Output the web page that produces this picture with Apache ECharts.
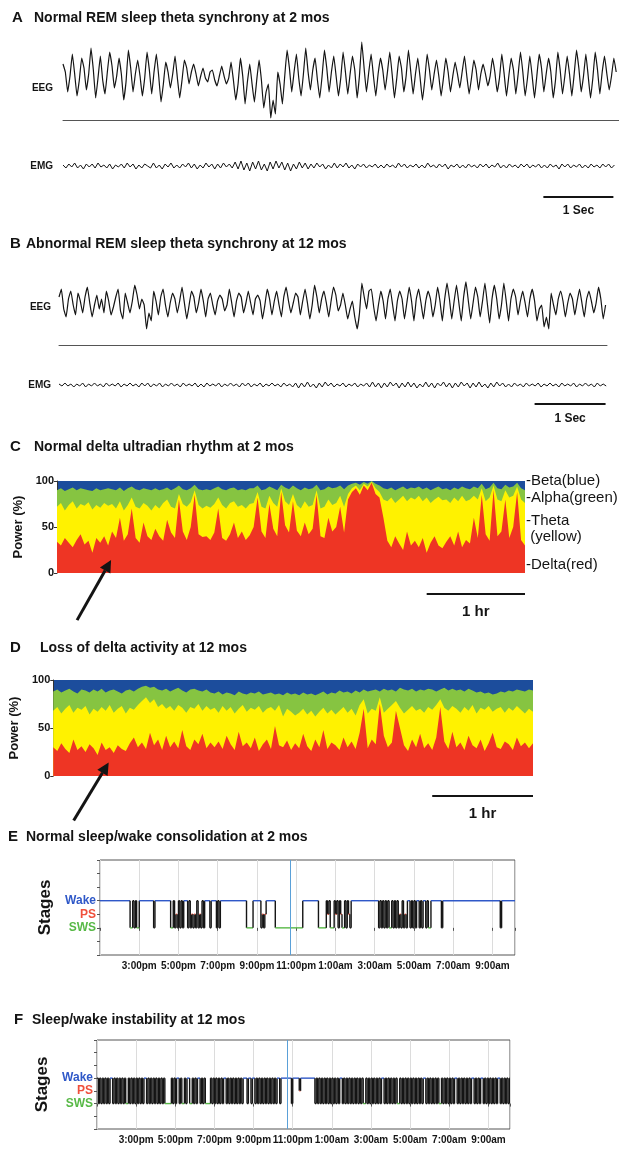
<!DOCTYPE html>
<html>
<head>
<meta charset="utf-8">
<script src="https://cdn.jsdelivr.net/npm/echarts@6/dist/echarts.min.js"></script>
<style>
  html, body { margin: 0; background: #fff; }
  #chart { width: 619px; height: 1152px; }
</style>
</head>
<body>
<div id="chart"></div>
<script>
// ---- traces (A, B): EEG sampled at 30/s, EMG at 24/s, arbitrary units ----
const eegRate = 30
const emgRate = 24

const eegA = [
  30,10,-40,0, 55,5,-50,-10, 45,20,-35,5, 70,15,-55,-5, 50,-10,-45,10,
  60,25,-30,0, 45,5,-60,-15, 65,20,-40,5, 40,0,-50,-5, 60,15,-45,10,
  55,0,-65,-20, 35,10,-30,5, 50,-5,-55,-10, 40,20,-20,10, 30,5,-25,0,
  20,-5,-15,10, 15,-10,-25,0, 25,0,-20,-5, 35,-10,-60,-20, 45,0,-70,-15,
  30,-20,-65,-10, 40,-10,-80,-40, -20,-105,-60,-95, 10,-20,-70,0, 65,20,-40,10,
  55,-5,-50,5, 70,10,-35,15, 45,-10,-55,0, 65,20,-40,10, 50,0,-50,-5,
  60,10,-45,5, 50,15,-55,0, 85,20,-40,10, 55,0,-50,5, 45,15,-35,10,
  60,5,-55,-5, 50,20,-40,0, 65,10,-45,5, 45,-5,-60,-10, 55,15,-35,5,
  40,0,-50,-5, 45,10,-40,0, 35,5,-30,10, 50,0,-45,-5, 40,15,-35,5,
  30,5,-25,0, 45,10,-40,-5, 55,5,-50,0, 45,15,-45,5, 60,10,-50,-5,
  50,0,-55,0, 55,20,-40,5, 45,10,-55,-10, 60,15,-45,0, 50,5,-50,5,
  65,20,-40,0, 55,0,-55,-5, 60,15,-45,10, 50,5,-35,0, 45,10
]

const emgA = [
  1,-2,2,-1,3,-2,1,-3,2,-1,2,-2,3,-1,1,-2,2,-3,1,-1,
  2,-2,3,-1,2,-3,1,-2,2,0,-2,3,-2,1,-3,2,-1,3,-2,1,
  -2,2,-1,3,-2,2,-3,1,-2,3,-1,2,-3,2,-2,3,-1,2,-2,4,
  -3,5,-4,3,-5,4,-3,5,-4,2,-5,4,-3,5,-2,4,-4,3,-5,2,
  -3,4,-2,3,-3,2,-2,3,-1,2,-3,1,-2,3,-2,2,-1,3,-2,1,
  -3,2,-1,2,-2,1,-1,2,-2,1,-2,2,-1,1,-2,3,-1,2,-2,1,
  -1,2,-2,1,-2,3,-1,1,-2,2,-1,2,-3,1,-1,2,-2,1,-2,2,
  -1,1,-2,2,-1,2,-2,1,-1,3,-2,1,-2,2,-1,1,-2,2,-1,2,
  -2,1,-1,2,-2,1,-2,2,-1,1,-3,2,-1,2,-2,1,-1,2,-2,1,
  -2,2,-1,1,-2,2,-1,2,-2,1
]

const eegB = [
  10,30,-20,-40, 5,25,-10,-35, 20,0,-30,10, 35,-5,-40,-10, 15,-20,5,-30,
  25,0,-35,-15, 10,30,-25,-45, 20,-5,-30,0, 40,15,-20,5, -10,-70,-30,-50,
  25,0,-35,10, 30,-10,-40,-5, 20,5,-30,0, 35,-5,-45,-10, 25,10,-30,-5,
  30,0,-40,5, 20,-10,-35,0, 15,5,-25,-10, 30,-5,-40,0, 20,10,-30,-5,
  25,-5,-35,5, 15,0,-45,-10, 30,5,-35,0, 25,-10,-40,10, 35,0,-30,-5,
  20,10,-35,0, 30,-5,-45,-10, 40,10,-30,5, 25,-5,-40,0, 35,15,-25,-10,
  20,-10,-45,-20, 0,-40,-70,-30, 45,10,-20,25, 30,-15,-50,-10, 25,0,-45,5,
  30,-10,-50,0, 25,5,-45,-5, 35,0,-50,5, 30,-5,-45,0, 25,5,-40,-10,
  35,0,-50,5, 45,5,-45,0, 40,-5,-50,10, 48,0,-45,-5, 35,10,-40,0,
  45,-5,-55,5, 40,5,-45,-10, 45,0,-50,5, 30,10,-35,0, 25,-5,-40,5,
  30,0,-50,-20, -10,-65,-40,-70, 20,-10,-35,5, 25,0,-40,-5, 20,5,-35,0,
  30,-5,-40,5, 25,0,-30,-5, 35,5,-45,-10
]

const emgB = [
  1,-1,2,-1,1,-2,1,-1,2,-2,1,-1,2,-1,1,-2,2,-1,1,-1,
  2,-2,1,-1,2,-1,1,-2,2,-1,2,-2,1,-1,2,-2,1,-1,2,-1,
  1,-2,2,-1,1,-1,2,-2,1,-2,2,-1,1,-1,2,-2,1,-1,2,-1,
  1,-2,2,-1,2,-2,1,-1,2,-2,1,-1,2,-1,1,-2,2,-1,1,-2,
  2,-3,2,-2,3,-2,1,-3,2,-2,3,-1,2,-2,1,-1,2,-2,1,-1,
  2,-2,1,-1,2,-2,3,-2,2,-3,2,-2,3,-1,2,-3,2,-2,3,-2,
  2,-3,1,-2,3,-2,2,-3,2,-1,3,-2,2,-3,2,-2,3,-1,2,-3,
  2,-2,3,-2,1,-3,2,-2,3,-1,2,-2,1,-2,2,-1,1,-2,2,-1,
  1,-1,2,-2,1,-1,2,-1,1,-2,2,-1,1,-1,2,-2,1,-1,2,-1,
  1,-2,2,-1,1,-1
]

// ---- spectral power (C, D): upper edge of each band in %, one value per 2.4 min epoch ----
const specEpochMin = 2.4

const cDelta = [
  34,30,38,33,28,36,42,31,35,22,38,33,40,30,
  45,38,60,35,42,70,38,33,55,40,36,
  48,40,35,58,44,38,80,45,36,50,85,42,39,
  40,36,44,70,38,35,42,55,38,45,36,41,
  50,82,45,38,75,48,40,88,52,44,78,46,40,
  55,42,48,85,40,38,60,45,50,72,44,
  80,88,92,85,95,90,98,86,82,60,
  35,28,40,32,25,45,30,35,28,38,22,33,40,30,27,
  34,40,30,45,28,36,32,
  60,38,85,42,35,90,40,45,80,38,50,88,36,30
]
const cTheta = [
  72,76,68,74,78,70,75,73,77,69,74,71,76,73,
  75,70,78,68,74,82,72,70,76,73,68,
  74,70,76,80,72,70,86,75,72,77,90,74,70,
  73,71,75,82,74,70,76,78,72,74,70,75,
  76,88,72,70,84,76,72,92,78,74,86,74,70,
  78,72,74,90,70,72,80,74,76,84,72,
  86,92,95,90,97,94,99,92,88,80,
  78,82,76,80,84,78,82,80,84,78,82,76,80,83,79,
  80,76,82,78,84,78,80,
  84,80,92,78,82,95,80,78,90,82,84,94,80,76
]
const cAlpha = [
  90,92,89,91,93,90,92,91,90,89,92,90,91,92,
  91,90,93,89,92,94,91,90,92,91,90,
  92,90,91,93,90,92,95,91,90,92,96,91,90,
  91,90,92,94,91,90,92,93,90,91,90,92,
  92,95,90,91,94,92,90,96,93,91,95,92,90,
  93,91,92,96,90,91,94,92,93,95,91,
  95,97,98,96,99,97,100,97,95,92,
  91,93,90,92,94,91,93,92,94,91,93,90,92,94,91,
  92,90,93,91,94,92,91,
  94,92,97,91,93,98,92,91,96,93,94,98,92,90
]

const dDelta = [
  30,26,34,28,24,38,27,31,25,33,29,22,35,27,30,24,32,28,26,34,
  40,30,35,28,45,32,38,27,42,30,36,29,48,31,27,38,33,44,29,35,
  30,36,28,42,33,27,46,31,35,29,40,26,33,38,28,52,32,30,37,27,
  34,29,44,31,26,38,30,48,28,35,32,27,40,30,36,28,45,70,29,38,
  33,75,42,30,35,68,50,32,26,38,30,44,29,34,27,40,72,36,28,46,
  30,35,27,42,32,29,38,26,34,45,30,28,36,33,27,40,31,35,29,34
]
const dTheta = [
  68,72,65,70,74,66,71,69,73,64,70,67,72,68,74,66,70,73,65,71,
  69,74,78,82,76,80,72,75,70,73,68,74,71,66,72,70,75,68,73,69,
  71,66,73,68,72,65,70,74,67,71,69,73,66,70,72,68,74,62,70,67,
  63,66,70,64,68,62,67,71,65,69,64,68,72,66,70,63,74,80,65,70,
  68,82,66,70,74,78,71,65,69,73,68,70,66,72,69,74,80,71,68,73,
  70,66,72,68,74,65,71,69,73,67,70,72,66,71,68,73,69,65,70,67
]
const dAlpha = [
  88,90,87,89,91,88,86,90,89,87,90,88,91,87,89,90,88,86,89,90,
  88,91,93,94,92,93,90,89,91,88,90,92,89,87,90,91,89,88,90,87,
  86,88,85,87,86,84,88,86,85,87,86,88,85,86,87,85,86,84,87,85,
  86,84,87,85,86,84,86,88,85,87,86,89,87,88,86,89,87,90,88,89,
  90,88,91,89,90,88,92,90,89,91,88,90,89,91,90,88,90,92,89,91,
  89,90,88,91,89,87,88,86,87,85,86,88,87,89,88,90,89,88,90,89
]
const bandLabels = ['-Beta(blue)', '-Alpha(green)', '-Theta', ' (yellow)', '-Delta(red)']

// ---- hypnograms (E, F): stage per 4 min epoch from 1:00pm, 0 = SWS, 1 = PS, 2 = Wake ----
const hypnoEpochMin = 4
const stageNames = ['SWS', 'PS', 'Wake']
const timeLabels = ['3:00pm', '5:00pm', '7:00pm', '9:00pm', '11:00pm', '1:00am', '3:00am', '5:00am', '7:00am', '9:00am']
const cursorHour = 9.72

const stagesE = [
  2,2,2,2,2,2,2,2,2,2,2,2,2,2,2,
  2,2,2,2,2,2,2,2,0,0,2,0,2,0,0,
  2,2,2,2,2,2,2,2,2,2,2,0,2,2,2,
  2,2,2,2,2,2,2,2,2,0,0,2,0,1,0,
  2,0,2,0,2,2,2,0,2,0,1,0,1,0,2,
  0,1,0,2,0,2,2,2,2,0,2,2,2,2,0,
  2,0,2,2,2,2,2,2,2,2,2,2,2,2,2,
  2,2,2,2,2,2,2,0,0,0,0,0,2,2,2,
  2,2,2,0,1,0,1,2,2,2,2,2,2,2,0,
  0,0,0,0,0,0,0,0,0,0,0,0,0,0,0,
  0,0,0,0,0,2,2,2,2,2,2,2,2,2,2,
  2,2,0,0,0,0,0,0,2,1,2,0,0,0,2,
  1,2,0,2,1,0,0,2,0,2,1,0,2,2,2,
  2,2,2,2,2,2,2,2,2,2,2,2,2,2,2,
  2,2,2,0,2,0,2,0,2,0,2,0,0,2,0,
  2,0,2,0,1,0,2,0,1,0,2,2,0,2,0,
  2,0,2,2,0,2,0,2,2,0,2,0,0,2,2,
  2,2,2,2,2,2,0,2,2,2,2,2,2,2,2,
  2,2,2,2,2,2,2,2,2,2,2,2,2,2,2,
  2,2,2,2,2,2,2,2,2,2,2,2,2,2,2,
  2,2,2,2,2,2,0,2,2,2,2,2,2,2,2,
  2,2,2
]

const stagesF = [
  2,0,2,0,2,0,2,0,2,0,2,2,0,2,0,
  2,0,2,0,2,0,2,0,0,2,0,2,0,2,0,
  2,0,2,0,2,0,2,2,0,2,0,2,0,2,0,
  2,0,2,0,2,0,2,0,0,0,0,0,2,0,2,
  0,2,2,0,2,0,0,2,0,2,2,0,0,2,0,
  2,0,2,2,0,2,0,2,0,0,0,0,2,0,2,
  0,2,0,2,0,2,0,2,2,0,2,0,2,0,2,
  0,2,0,2,0,2,0,2,2,2,0,2,2,0,2,
  2,0,2,0,2,0,2,0,2,0,2,0,2,0,2,
  0,2,0,2,2,0,2,2,2,2,2,2,2,2,0,
  2,2,2,2,2,1,2,2,2,2,2,2,2,2,2,
  2,2,0,2,0,2,0,2,0,2,0,2,0,2,0,
  2,0,2,0,2,0,2,2,0,2,0,2,0,2,0,
  2,0,2,0,2,0,2,0,2,0,0,2,0,2,0,
  2,0,2,0,2,0,2,0,2,2,0,2,0,2,0,
  2,0,2,0,2,0,0,2,0,2,0,2,0,2,0,
  2,0,2,0,2,0,2,0,2,0,2,2,0,2,0,
  2,0,2,0,2,0,2,0,0,2,0,2,0,2,0,
  2,0,2,0,2,2,0,2,0,2,0,2,0,2,0,
  2,0,2,2,0,2,0,2,0,2,2,0,2,0,2,
  0,2,0,2,0,2,0,2,2,0,2,0,2,0,2,
  0,2,0
]

const FONT = "'Liberation Sans', Arial, sans-serif"
const INK = '#141414'
const BLUE = '#1c4d9c'
const GREEN = '#86c441'
const YELLOW = '#fff200'
const RED = '#ee3524'
const stageColors = ['#58b947', '#f0503c', '#2f58c8']

const toXY = (vals, rate) => vals.map((v, i) => [i / rate, v])
const specXY = vals => vals.map((v, i) => [i * specEpochMin / 60, v])
const specMax = (cDelta.length - 1) * specEpochMin / 60

// merge equal epochs into runs: [start h, end h, stage, next stage, run length]
const hypnoRows = stages => {
  const h = hypnoEpochMin / 60
  const rows = []
  let start = 0
  for (let i = 1; i <= stages.length; i++) {
    if (i === stages.length || stages[i] !== stages[start]) {
      const next = i === stages.length ? stages[start] : stages[i]
      rows.push([start * h, i * h, stages[start], next, i - start])
      start = i
    }
  }
  return rows
}

const chart = echarts.init(document.getElementById('chart'))

const traceX = (gridIndex, max, baseline) => ({
  gridIndex, type: 'value', min: 0, max,
  axisLine: { show: baseline, onZero: false, lineStyle: { color: '#555', width: 1 } },
  axisTick: { show: false }, axisLabel: { show: false }, splitLine: { show: false }
})
const traceY = (gridIndex, min, max) => ({ gridIndex, type: 'value', min, max, show: false })

const powerY = (gridIndex, nameGap) => ({
  gridIndex, type: 'value', min: 0, max: 100, interval: 50,
  axisLine: { show: true, lineStyle: { color: '#333' } },
  axisTick: { show: true, length: 3, lineStyle: { color: '#333' } },
  axisLabel: { fontSize: 11, fontWeight: 'bold', color: INK, margin: 3, fontFamily: FONT },
  splitLine: { show: false },
  name: 'Power (%)', nameLocation: 'middle', nameGap,
  nameTextStyle: { fontSize: 13, fontWeight: 'bold', color: INK, fontFamily: FONT }
})

const hourX = (gridIndex, max) => ({
  gridIndex, type: 'value', min: 0, max, interval: 2,
  axisLine: { show: false },
  axisTick: { show: true, length: 3, lineStyle: { color: '#555' } },
  axisLabel: {
    fontSize: 10, fontWeight: 'bold', color: INK, margin: 6, fontFamily: FONT,
    formatter: v => (v > 0 && v % 2 === 0 && v / 2 <= timeLabels.length) ? timeLabels[v / 2 - 1] : ''
  },
  splitLine: { show: true, lineStyle: { color: '#dcdcdc', width: 1 } }
})
const stageY = gridIndex => ({
  gridIndex, type: 'value', min: -2, max: 5, interval: 1,
  axisLine: { show: false },
  axisTick: { show: true, length: 3, lineStyle: { color: '#555' } },
  axisLabel: {
    margin: 4, fontFamily: FONT,
    formatter: v => (v >= 0 && v <= 2) ? `{s${v}|${stageNames[v]}}` : '',
    rich: {
      s0: { color: stageColors[0], fontWeight: 'bold', fontSize: 12, fontFamily: FONT },
      s1: { color: stageColors[1], fontWeight: 'bold', fontSize: 12, fontFamily: FONT },
      s2: { color: stageColors[2], fontWeight: 'bold', fontSize: 12, fontFamily: FONT }
    }
  },
  splitLine: { show: false },
  name: 'Stages', nameLocation: 'middle', nameGap: 46,
  nameTextStyle: { fontSize: 17, fontWeight: 'bold', color: INK, fontFamily: FONT }
})

const traceSeries = (idx, data, smooth, width) => ({
  type: 'line', xAxisIndex: idx, yAxisIndex: idx, data, smooth,
  showSymbol: false, silent: true, lineStyle: { color: INK, width }
})
const bandSeries = (idx, vals, color) => ({
  type: 'line', xAxisIndex: idx, yAxisIndex: idx, data: specXY(vals),
  showSymbol: false, silent: true,
  lineStyle: { width: 0 }, areaStyle: { color, opacity: 1 }
})
const hypnoSeries = (idx, stages) => ({
  type: 'custom', xAxisIndex: idx, yAxisIndex: idx, silent: true, clip: true,
  dimensions: ['t0', 't1', 'stage', 'next', 'len'],
  encode: { x: [0, 1], y: [2, 3] },
  data: hypnoRows(stages),
  renderItem: (params, api) => {
    const stage = api.value(2)
    const a = api.coord([api.value(0), stage])
    const b = api.coord([api.value(1), stage])
    const c = api.coord([api.value(1), api.value(3)])
    const colored = stage === 1 || api.value(4) >= 2
    return {
      type: 'group',
      children: [
        { type: 'line', shape: { x1: a[0], y1: a[1], x2: b[0], y2: b[1] },
          style: { stroke: colored ? stageColors[stage] : INK, lineWidth: 1.4 } },
        { type: 'line', shape: { x1: b[0], y1: b[1], x2: c[0], y2: c[1] },
          style: { stroke: INK, lineWidth: 1.4 } }
      ]
    }
  },
  markLine: {
    silent: true, symbol: 'none', label: { show: false },
    lineStyle: { color: '#5aa0d8', width: 1, type: 'solid' },
    data: [{ xAxis: cursorHour }]
  }
})

chart.setOption({
  animation: false,
  backgroundColor: '#fff',
  grid: [
    { left: 63, top: 40, width: 556, height: 80 },
    { left: 63, top: 151, width: 556, height: 30 },
    { left: 59, top: 265, width: 548, height: 80 },
    { left: 59, top: 370, width: 548, height: 30 },
    { left: 57, top: 481, width: 468, height: 92, show: true, backgroundColor: BLUE, borderWidth: 0 },
    { left: 53, top: 680, width: 480, height: 96, show: true, backgroundColor: BLUE, borderWidth: 0 },
    { left: 100, top: 860, width: 415, height: 95, show: true, borderColor: '#555', borderWidth: 1 },
    { left: 97, top: 1040, width: 413, height: 89, show: true, borderColor: '#555', borderWidth: 1 }
  ],
  xAxis: [
    traceX(0, 7.94, true),
    traceX(1, 7.94, false),
    traceX(2, 7.72, true),
    traceX(3, 7.72, false),
    { gridIndex: 4, type: 'value', min: 0, max: specMax, show: false },
    { gridIndex: 5, type: 'value', min: 0, max: specMax, show: false },
    hourX(6, 21.15),
    hourX(7, 21.1)
  ],
  yAxis: [
    traceY(0, -110, 90),
    traceY(1, -15, 15),
    traceY(2, -110, 90),
    traceY(3, -15, 15),
    powerY(4, 24),
    powerY(5, 20),
    stageY(6),
    stageY(7)
  ],
  series: [
    traceSeries(0, toXY(eegA, eegRate), 0.1, 1.2),
    traceSeries(1, toXY(emgA, emgRate), false, 1),
    traceSeries(2, toXY(eegB, eegRate), 0.1, 1.2),
    traceSeries(3, toXY(emgB, emgRate), false, 1),
    bandSeries(4, cAlpha, GREEN),
    bandSeries(4, cTheta, YELLOW),
    bandSeries(4, cDelta, RED),
    bandSeries(5, dAlpha, GREEN),
    bandSeries(5, dTheta, YELLOW),
    bandSeries(5, dDelta, RED),
    hypnoSeries(6, stagesE),
    hypnoSeries(7, stagesF)
  ]
})

// ---- annotations: titles, channel names, scale bars, arrows ----
const text = (x, y, str, size, weight, extra) => ({
  type: 'text', x, y, z: 100, silent: true,
  style: Object.assign({ text: str, fontSize: size, fontWeight: weight, fontFamily: FONT,
    fill: INK, verticalAlign: 'middle' }, extra || {})
})

const titles = [
  [12, 34, 18, 'A', 'Normal REM sleep theta synchrony at 2 mos'],
  [10, 26, 244, 'B', 'Abnormal REM sleep theta synchrony at 12 mos'],
  [10, 34, 447, 'C', 'Normal delta ultradian rhythm at 2 mos'],
  [10, 40, 648, 'D', 'Loss of delta activity at 12 mos'],
  [8, 26, 837, 'E', 'Normal sleep/wake consolidation at 2 mos'],
  [14, 32, 1020, 'F', 'Sleep/wake instability at 12 mos']
]

const scaleBar = (gridIndex, x0, x1, y, label, labelY, size) => {
  const p0 = chart.convertToPixel({ gridIndex }, [x0, 0])[0]
  const p1 = chart.convertToPixel({ gridIndex }, [x1, 0])[0]
  return [
    { type: 'line', z: 100, silent: true, shape: { x1: p0, y1: y, x2: p1, y2: y }, style: { stroke: INK, lineWidth: 2 } },
    text((p0 + p1) / 2, labelY, label, size, 'bold', { align: 'center' })
  ]
}

const arrow = (gridIndex, at, dx, dy) => {
  const [hx, hy] = chart.convertToPixel({ gridIndex }, at)
  const len = Math.hypot(dx, dy)
  const ux = -dx / len, uy = -dy / len
  const bx = hx - ux * 12, by = hy - uy * 12
  return [
    { type: 'line', z: 100, silent: true, shape: { x1: hx + dx, y1: hy + dy, x2: bx, y2: by }, style: { stroke: INK, lineWidth: 3 } },
    { type: 'polygon', z: 100, silent: true,
      shape: { points: [[hx, hy], [bx - uy * 6, by + ux * 6], [bx + uy * 6, by - ux * 6]] },
      style: { fill: INK } }
  ]
}

const graphic = []
titles.forEach(([lx, tx, y, letter, str]) => {
  graphic.push(text(lx, y, letter, 15, 'bold'))
  graphic.push(text(tx, y, str, 14, 'bold'))
})
graphic.push(text(53, 88, 'EEG', 10, 'bold', { align: 'right' }))
graphic.push(text(53, 166, 'EMG', 10, 'bold', { align: 'right' }))
graphic.push(text(51, 307, 'EEG', 10, 'bold', { align: 'right' }))
graphic.push(text(51, 385, 'EMG', 10, 'bold', { align: 'right' }))
graphic.push(...scaleBar(0, 6.86, 7.86, 197, '1 Sec', 211, 12))
graphic.push(...scaleBar(2, 6.7, 7.7, 404, '1 Sec', 419, 12))
graphic.push(...scaleBar(4, specMax - 1, specMax, 594, '1 hr', 612, 15))
graphic.push(...scaleBar(5, specMax - 1, specMax, 796, '1 hr', 814, 15))
const bandLabelY = [481, 498, 521, 537, 565]
bandLabels.forEach((s, i) => graphic.push(text(526, bandLabelY[i], s, 15, 'normal')))
graphic.push(...arrow(4, [0.55, 14], -34, 60))
graphic.push(...arrow(5, [0.55, 14], -35, 58))

chart.setOption({ graphic })
</script>
</body>
</html>
